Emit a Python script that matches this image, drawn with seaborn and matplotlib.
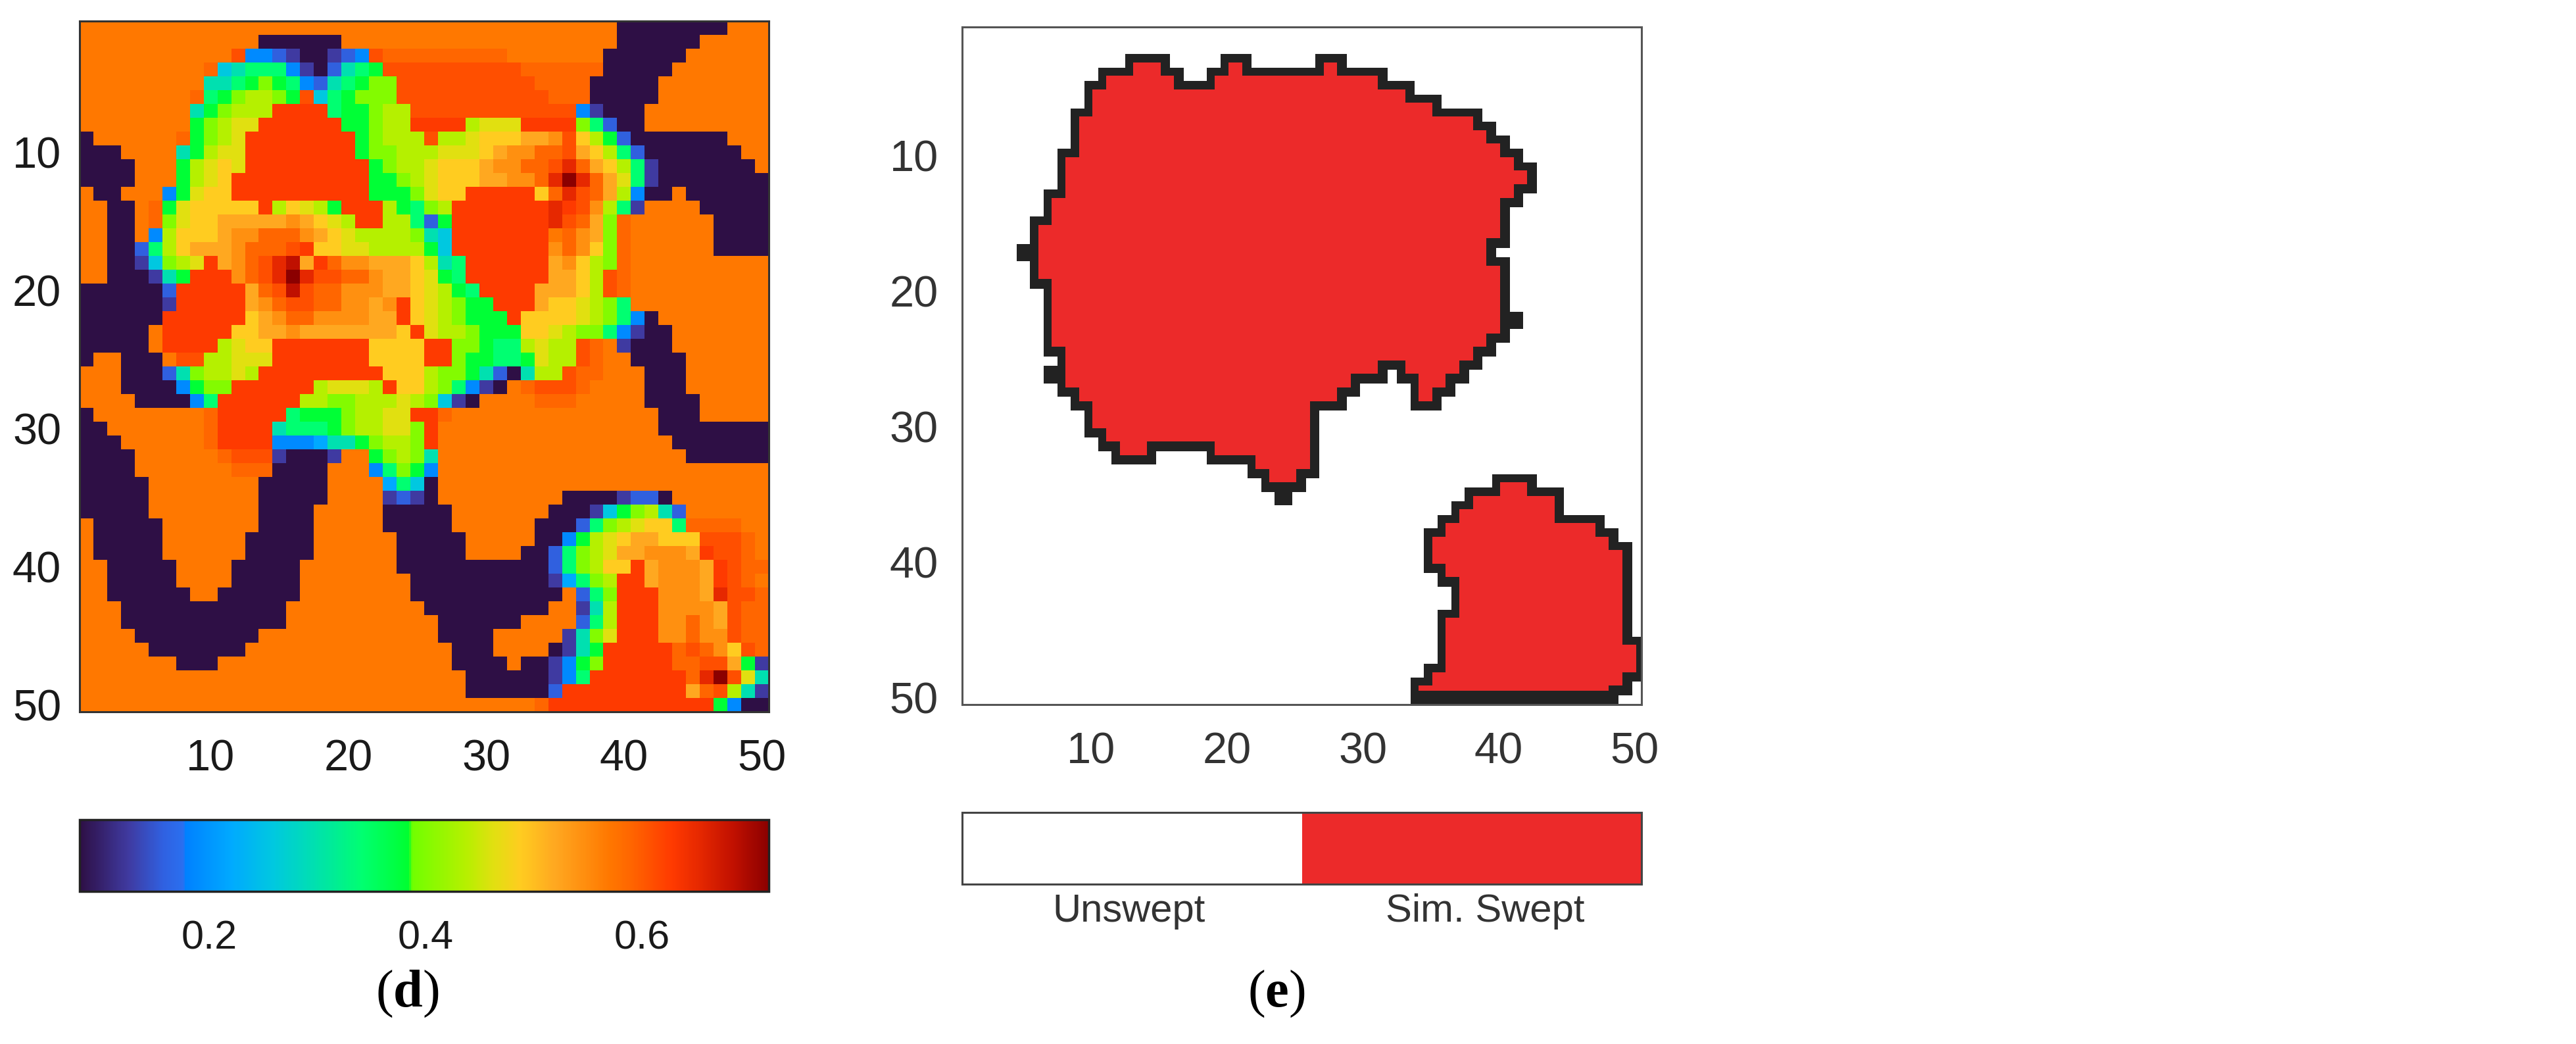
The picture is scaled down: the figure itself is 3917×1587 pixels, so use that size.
import re
import numpy as np
import seaborn as sns
import matplotlib
matplotlib.use("Agg")
import matplotlib.pyplot as plt
from matplotlib.colors import LinearSegmentedColormap, ListedColormap

# cell levels of panel d, one letter per level of the colour bar
LEVEL_NAMES = list("#pBbcCtgGlyYoOa.srRdDK")
LEVEL_VALUES = [0.08, 0.125, 0.156, 0.188, 0.22, 0.258, 0.297, 0.341, 0.38, 0.40, 0.437,
                0.462, 0.488, 0.52, 0.545, 0.57, 0.59, 0.609, 0.628, 0.653, 0.685, 0.717]

# panel d, rows 1 to 50 as runs: "39." is 39 cells of level "."
PANEL_D_ROWS = [
    "39.8#3.",
    "13.6#20.6#5.",
    "11.rbbBp##pBbr9s7.6#6.",
    "9.sCt3gbp#BtgG10r6s5#7.",
    "9.ttgGlGgbBtgGll10r4s5#8.",
    "8.sgGlyylGrCgGlll11r3s5#8.",
    "8.tGlyyy4RgGGlyy12rbp3#9.",
    "8.GlyYY6RGGlyy4RyYYY4RlgB##9.",
    "#6.sGlyY8RGlyyyryyYoooOOaroyGB7#3.",
    "3#4.tGyYY8RGllyyyYYYoOaassrOoygB7#2.",
    "4#3.GyYoY9RGlyyYoooOaassrdsOoygp7#.",
    "4#3.GyYo10RGGlyYoooOOaasdKdsOYgp8#",
    ".##3.bGYoo10RGGGlYoo5RosdrsOyb##.6#",
    "..##.sGY5oRyoYyG3RyGgly7RdRraygp4.5#",
    "..##.slYoo5OaOoYyRRyygBG7RdrsOls6.4#",
    "..##.byoooOaasssaOoY4yltC7R.saOls6.4#",
    "..##BgyoOOOasssrRooYYyyyyGC7Rasaols6.4#",
    "..##pClyYROasrdDORsaaOOOoytg6ROaoyls10.",
    "..###ptG3RasrdKdrrssaOOoYGg6ROOoyrs10.",
    "6#B5ROsrDrssaaaOOoYyGg4ROOOoyrs10.",
    "6#p5ROasrrssaaOaRoYylGG3ROooYylg10.",
    "6#6RoOassaaaaOORoYylGGGRooooYylgb#8.",
    "5#.5RooOOa7OoRYyylGGGooYyllgbp##7.",
    "5#.4RyYoo7RooooRRllGggyYyyrs.p3#7.",
    "#..3#.rryyYYY7RooooRRlGGggGYyyrs..4#6.",
    "3.3#BtlyyYy9RoooyllGtB#tyyrss3.3#6.",
    "3.4#bGll6RyYYYyRooylgbp#.srrrs4.3#6.",
    "4.4#bg6RyyllyyyYylCp#4.sss5.4#5.",
    "#8.s5RgGGGlyyYYRRs15.3#5.",
    "##7.s4RtgggGlyyYYlR16.8#",
    "3#6.s4RbbbcttGlyylR17.7#",
    "4#6.srrrp3#p..Glylt18.6#",
    "4#7.sss4#3.bglGb24.",
    "5#8.5#4.cgC#24.",
    "5#8.5#4.pBp#9.4#pBB#7.",
    "5#8.4#5.5#7.3#pCGlytB6.",
    ".5#7.4#5.5#6.3#BglyYoog4s2.",
    ".5#6.5#6.5#5.##bGyYoOOooorrrs.",
    ".5#6.5#6.5#4.##BglyYOOaaaORrrs.",
    "..5#4.5#7.11#BglyooROaaaORrss",
    "..5#4.5#8.10#pcglyRROaaaORrs.",
    "..6#..6#8.11#.Bgl3RaaaOdrrs",
    "3.12#10.9#..pty3RaaaaOrss",
    "3.12#11.6#4.Bgy3RaasaOrss",
    "4.9#13.4#5.ptlY3Raasaarss",
    "5.7#15.3#4.#ptG5Rsrsaors",
    "7.3#17.4#.##pbGl5RssrrOGp",
    "28.6#pbg7RsdKrYt",
    "28.6#B9ROsrytp",
    "33.s12RGb##",
]

# panel e, swept columns per row as (row, first column, last column)
SWEPT_SPANS = [
    (3, 13, 15), (3, 20, 21), (3, 27, 28), (4, 11, 16), (4, 19, 31), (5, 10, 33), (6, 10, 35),
    (7, 9, 38), (8, 9, 39), (9, 9, 40), (10, 8, 41), (11, 8, 42), (12, 8, 42), (13, 7, 41),
    (14, 7, 40), (15, 6, 40), (16, 6, 40), (17, 5, 39), (18, 6, 40), (19, 6, 40), (20, 7, 40),
    (21, 7, 40), (22, 7, 41), (23, 7, 40), (24, 7, 39), (25, 8, 38), (26, 7, 31), (26, 33, 37),
    (27, 8, 29), (27, 34, 36), (28, 9, 28), (28, 34, 35), (29, 10, 26), (30, 10, 26),
    (31, 11, 26), (32, 12, 14), (32, 19, 26), (33, 22, 26), (34, 23, 25), (34, 40, 42),
    (35, 24, 24), (35, 38, 44), (36, 37, 44), (37, 36, 47), (38, 35, 48), (39, 35, 49),
    (40, 35, 49), (41, 36, 49), (42, 37, 49), (43, 37, 49), (44, 36, 49), (45, 36, 49),
    (46, 36, 50), (47, 36, 50), (48, 35, 50), (49, 34, 49), (50, 34, 48),
]

AXIS_TICKS = [10, 20, 30, 40, 50]
CBAR_TICKS = [0.2, 0.4, 0.6]
CBAR_LABELS = ["0.2", "0.4", "0.6"]
SWEEP_LABELS = ["Unswept", "Sim. Swept"]

CMAP_STOPS = [(0, "#2e0f45"), (.07, "#3f3aa0"), (.12, "#3060e0"), (.15, "#2a70f0"), (.152, "#0080ff"),
              (.22, "#00aaff"), (.28, "#00c8e0"), (.34, "#00e0b0"), (.41, "#00ff70"), (.478, "#00ff30"),
              (.482, "#70ff00"), (.56, "#b5f000"), (.60, "#e0e010"), (.64, "#ffcc20"), (.69, "#ffa820"),
              (.73, "#ff9010"), (.77, "#ff7700"), (.80, "#ff6600"), (.83, "#ff5000"), (.86, "#ff3a00"),
              (.90, "#e62800"), (.95, "#c01000"), (1, "#8b0000")]
RED = "#ec2a2a"
LINE = "#222222"
W, H = 3917, 1587
SUB = 10  # sub cells per cell for the outline in panel e


def decode_rows(rows):
    lookup = dict(zip(LEVEL_NAMES, LEVEL_VALUES))
    grid = []
    for row in rows:
        cells = []
        for count, name in re.findall(r"(\d*)(\D)", row):
            cells += [lookup[name]] * int(count or 1)
        grid.append(cells[:50])
    return np.array(grid)


def shifted(mask, dy, dx):
    # mask moved by dy, dx sub cells, nothing wraps round the edge
    out = np.zeros_like(mask)
    h, w = mask.shape
    out[max(dy, 0):h + min(dy, 0), max(dx, 0):w + min(dx, 0)] = \
        mask[max(-dy, 0):h + min(-dy, 0), max(-dx, 0):w + min(-dx, 0)]
    return out


def outline_levels(spans):
    swept = np.zeros((50, 50), dtype=bool)
    for row, first, last in spans:
        swept[row - 1, first - 1:last] = True
    fine = np.kron(swept, np.ones((SUB, SUB), dtype=bool))

    # the black line sits a bit off the cell edge: 0.3 cell out on the far side
    outer = fine.copy()
    red = fine.copy()
    for axis_shift in [(1, 0), (0, 1)]:
        step_out = outer.copy()
        step_in = red.copy()
        for k in range(1, 4):
            step_out |= shifted(outer, axis_shift[0] * k, axis_shift[1] * k)
        for k in range(1, 5):
            step_in &= shifted(red, -axis_shift[0] * k, -axis_shift[1] * k)
        for k in range(1, 7):
            step_in &= shifted(red, axis_shift[0] * k, axis_shift[1] * k)
        outer, red = step_out, step_in
    red[-SUB:, :] = False  # the line fills the bottom row
    return outer.astype(int) + red.astype(int)


def px_axes(fig, x0, y0, x1, y1):
    return fig.add_axes([x0 / W, 1 - y1 / H, (x1 - x0) / W, (y1 - y0) / H])


def style_axes(ax, scale, color, label_color, y_pad):
    for spine in ax.spines.values():
        spine.set_visible(True)
        spine.set_color(color)
        spine.set_linewidth(2.2)
    ticks = [(t - 0.5) * scale for t in AXIS_TICKS]
    ax.set_xticks(ticks, [str(t) for t in AXIS_TICKS])
    ax.set_yticks(ticks, [str(t) for t in AXIS_TICKS], rotation=0)
    ax.tick_params(axis="x", direction="in", length=8, width=1.5, top=True, bottom=True,
                   color=color, labelcolor=label_color, labelsize=48, pad=30)
    ax.tick_params(axis="y", direction="in", length=8, width=1.5, left=True, right=True,
                   color=color, labelcolor=label_color, labelsize=48, pad=y_pad)


sns.set_theme(style="white")
plt.rcParams["font.family"] = ["Liberation Sans", "DejaVu Sans"]
plt.rcParams["mathtext.fontset"] = "custom"
plt.rcParams["mathtext.bf"] = "Liberation Serif:bold"

fig = plt.figure(figsize=(W / 100, H / 100), dpi=100)

# panel d
cmap_d = LinearSegmentedColormap.from_list("sweep", CMAP_STOPS, N=512)
ax_d = px_axes(fig, 121, 32, 1169, 1082)
cax_d = px_axes(fig, 121, 1246, 1169, 1355)
sns.heatmap(decode_rows(PANEL_D_ROWS), ax=ax_d, cbar_ax=cax_d, cmap=cmap_d, vmin=0.08, vmax=0.717,
            xticklabels=False, yticklabels=False, cbar_kws={"orientation": "horizontal"})
style_axes(ax_d, 1, "#333333", "#1a1a1a", 20)

cbar = ax_d.collections[0].colorbar
cbar.set_ticks(CBAR_TICKS, labels=CBAR_LABELS)
cbar.ax.tick_params(direction="in", length=9, width=1.5, color="#222222", labelcolor="#1a1a1a",
                    labelsize=44, pad=31)
cbar.outline.set_edgecolor("#222222")
cbar.outline.set_linewidth(2.5)

# panel e
ax_e = px_axes(fig, 1463, 41, 2496, 1071)
sns.heatmap(outline_levels(SWEPT_SPANS), ax=ax_e, cmap=ListedColormap(["white", LINE, RED]),
            vmin=0, vmax=2, cbar=False, xticklabels=False, yticklabels=False)
style_axes(ax_e, SUB, "#555555", "#333333", 26)

cax_e = px_axes(fig, 1463, 1235, 2496, 1344)
sns.heatmap([[0, 1]], ax=cax_e, cmap=ListedColormap(["white", RED]), cbar=False,
            xticklabels=False, yticklabels=False)
for spine in cax_e.spines.values():
    spine.set_visible(True)
    spine.set_color("#444444")
    spine.set_linewidth(2.2)
cax_e.set_xticks([0.49, 1.54], SWEEP_LABELS)
cax_e.tick_params(axis="x", length=0, labelsize=43, labelcolor="#333333", pad=10)

# panel letters
fig.text(619 / W, 1 - 1511 / H, r"($\mathbf{d}$)", family="Liberation Serif", fontsize=58,
         ha="center", va="center", color="black")
fig.text(1941 / W, 1 - 1511 / H, r"($\mathbf{e}$)", family="Liberation Serif", fontsize=58,
         ha="center", va="center", color="black")

fig.savefig("out.png", dpi=100, facecolor="white")
